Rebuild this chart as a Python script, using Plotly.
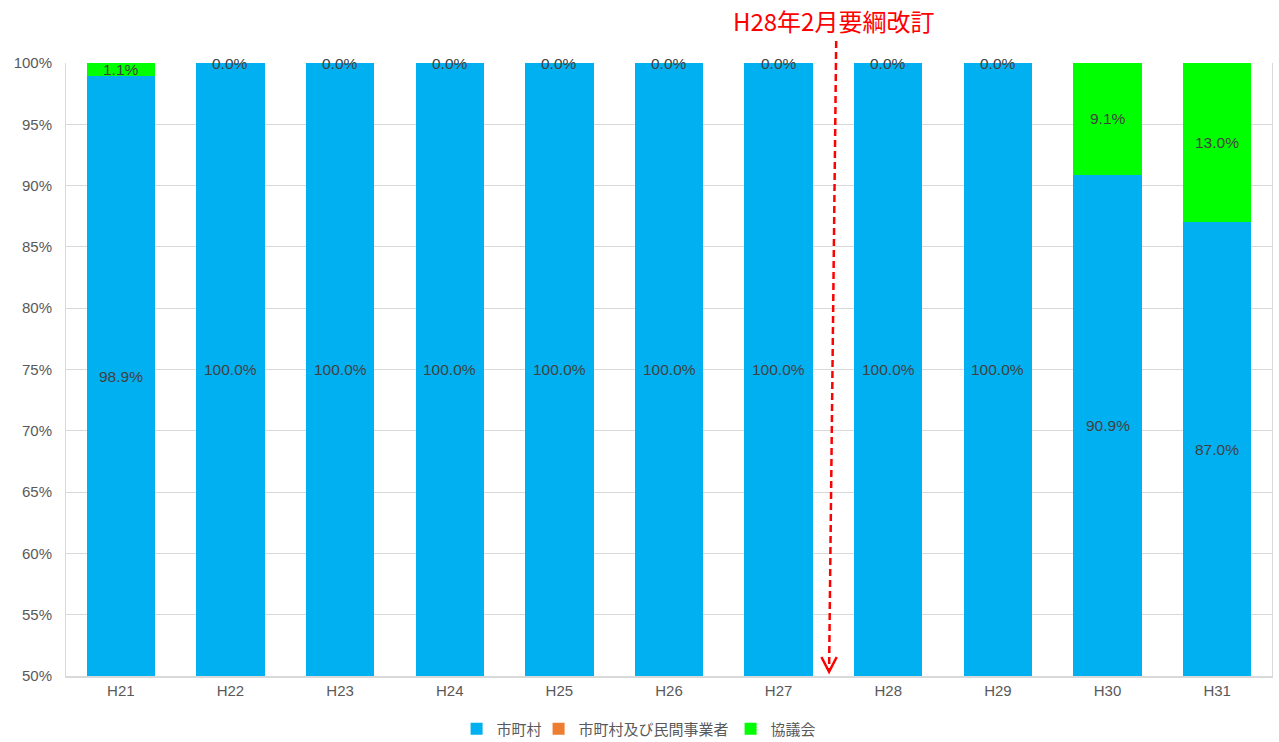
import plotly.graph_objects as go

years = ["H21", "H22", "H23", "H24", "H25", "H26", "H27", "H28", "H29", "H30", "H31"]
municipal = [98.9, 100.0, 100.0, 100.0, 100.0, 100.0, 100.0, 100.0, 100.0, 90.9, 87.0]
municipal_private = [0, 0, 0, 0, 0, 0, 0, 0, 0, 0, 0]
council = [1.1, 0.0, 0.0, 0.0, 0.0, 0.0, 0.0, 0.0, 0.0, 9.1, 13.0]
series_names = ["市町村", "市町村及び民間事業者", "協議会"]
colors = ["#00B0F0", "#ED7D31", "#00FF00"]
legend_widths = [37, 147, 60]
note_text = "H28年2月要綱改訂"
y_ticks = [50, 55, 60, 65, 70, 75, 80, 85, 90, 95, 100]

FONT = "Liberation Sans, Arial, Noto Sans CJK JP"
xs = list(range(len(years)))
ymin = 50
n = len(years)

def xpaper(v):
    return (v + 0.5) / n

def ypaper(v):
    return (v - 0.5) / 0.5

fig = go.Figure()
for name, vals, col, lw in zip(series_names, [municipal, municipal_private, council], colors, legend_widths):
    fig.add_trace(go.Bar(x=xs, y=[v / 100 for v in vals], name=name, marker_color=col,
                         marker_line_width=0, hoverinfo="skip", legendwidth=lw))

ann = []
lab_font = dict(size=15.5, color="#404040", family=FONT)
for i, (m, p, c) in enumerate(zip(municipal, municipal_private, council)):
    ann.append(dict(x=i, y=((ymin + m) / 2) / 100, text=f"{m:.1f}%", showarrow=False,
                    font=lab_font))
    ann.append(dict(x=i, y=(m + p + c / 2) / 100, text=f"{c:.1f}%", showarrow=False,
                    font=lab_font))

ann.append(dict(x=6.5, y=1.0, yref="y", yshift=43, text=note_text, showarrow=False,
                font=dict(size=24, color="#FF0000", family="Noto Sans CJK JP")))

shapes = [
    dict(type="line", xref="paper", yref="paper", x0=xpaper(6.525), x1=xpaper(6.46),
         y0=1.036, y1=ypaper(0.504),
         line=dict(color="#FF0000", width=2.5, dash="7px,4px")),
    dict(type="path", xref="paper", yref="paper",
         path=f"M {xpaper(6.39)},{ypaper(0.5155)} L {xpaper(6.46)},{ypaper(0.5035)} L {xpaper(6.53)},{ypaper(0.5155)}",
         line=dict(color="#FF0000", width=2.5)),
]

fig.update_layout(
    barmode="stack",
    bargap=0.377,
    width=1279, height=742,
    margin=dict(l=66, r=7, t=63, b=66),
    paper_bgcolor="white", plot_bgcolor="white",
    font=dict(family=FONT, color="#595959", size=15),
    showlegend=True,
    legend=dict(orientation="h", x=0.481, xanchor="center", yref="container",
                y=13 / 742, yanchor="middle",
                font=dict(size=15, color="#595959", family="Noto Sans CJK JP"),
                itemwidth=30, traceorder="normal"),
    annotations=ann,
    shapes=shapes,
)
fig.update_xaxes(tickvals=xs, ticktext=years, range=[-0.5, n - 0.5],
                 showline=True, linecolor="#D9D9D9", linewidth=2, ticks="",
                 showgrid=False, tickfont=dict(size=15, color="#595959"))
fig.update_yaxes(range=[0.5, 1.0], tickvals=[t / 100 for t in y_ticks], tickformat=".0%",
                 showgrid=True, gridcolor="#D9D9D9", gridwidth=1,
                 showline=True, linecolor="#D9D9D9", linewidth=1, mirror=True,
                 ticks="", ticklabelstandoff=10, zeroline=False,
                 tickfont=dict(size=15, color="#595959"))

fig.write_html("out.html")
